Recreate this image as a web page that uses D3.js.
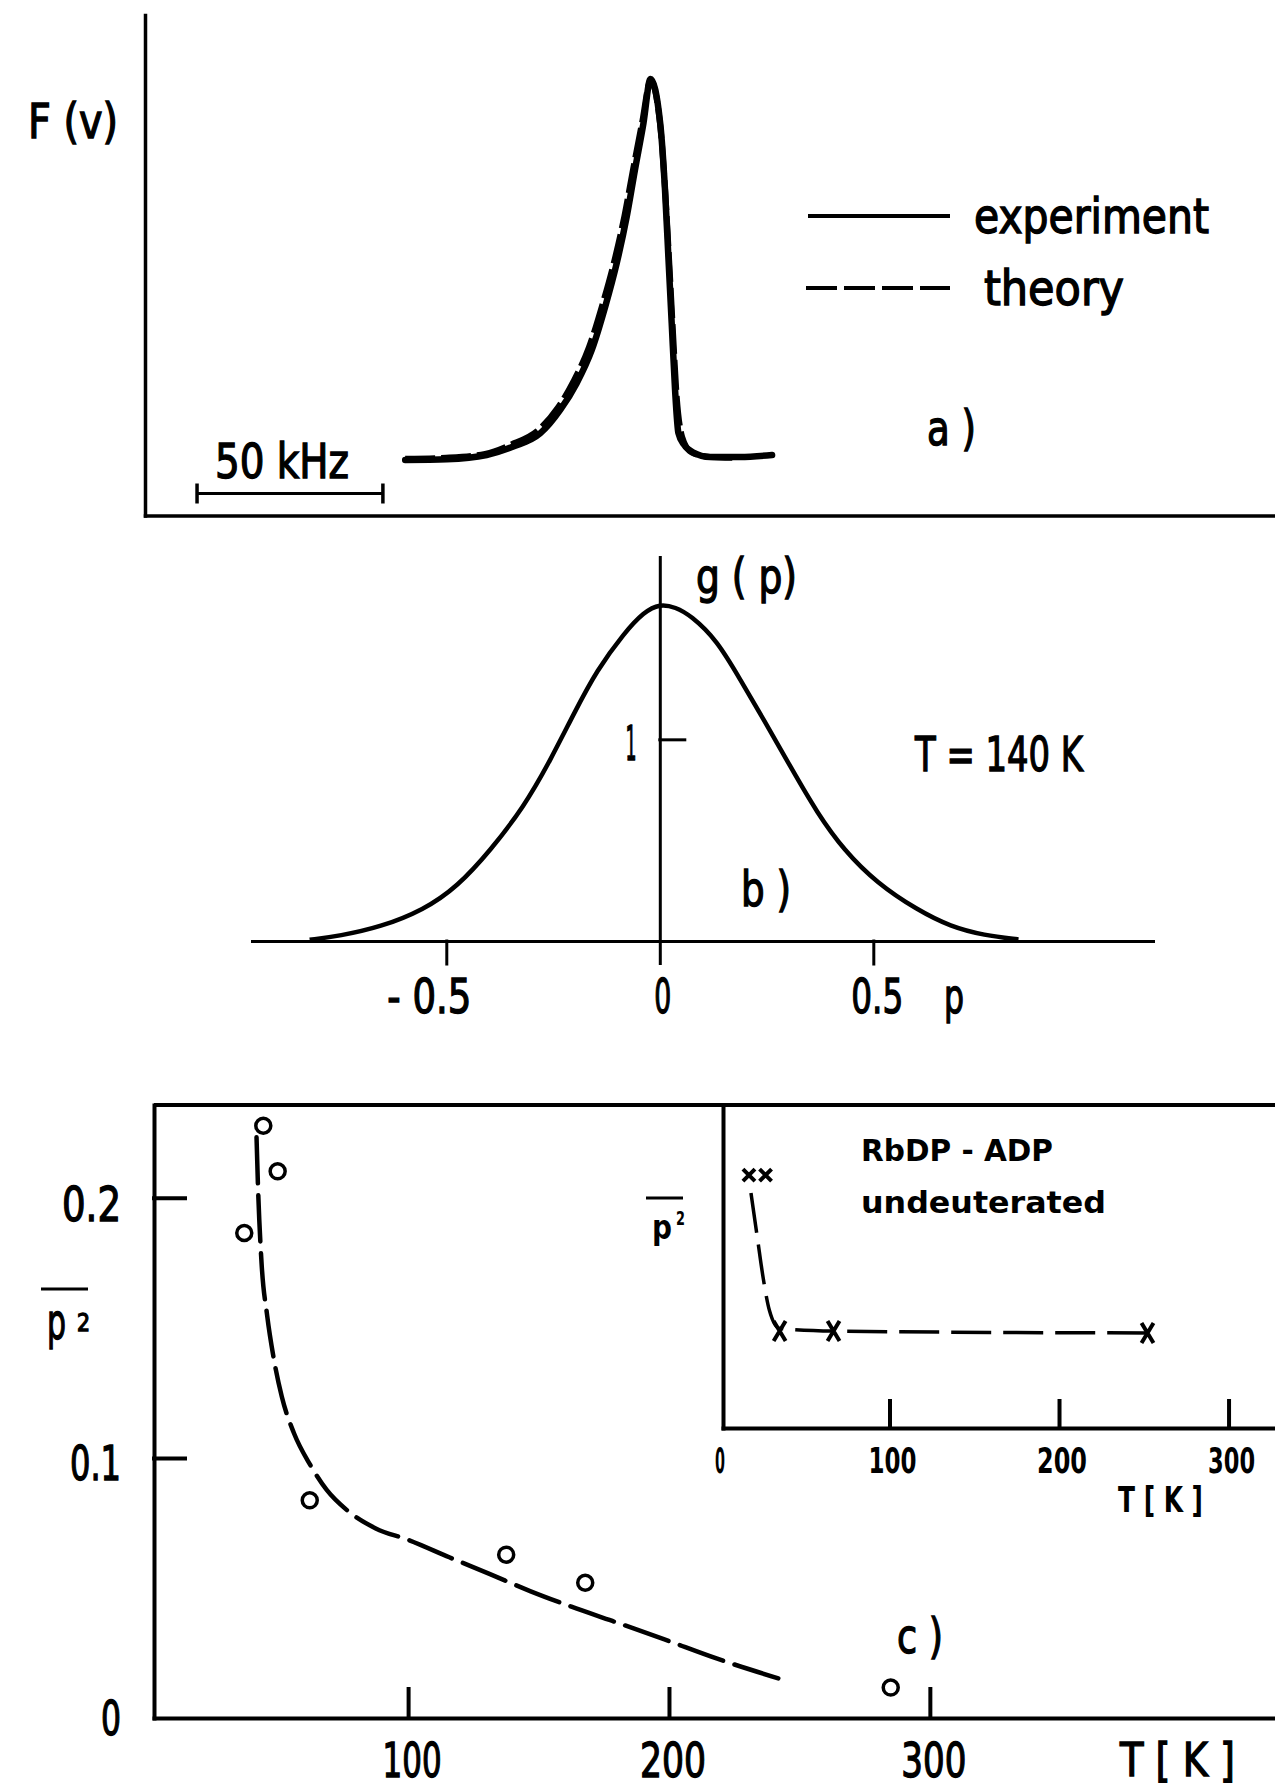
<!DOCTYPE html>
<html><head><meta charset="utf-8">
<script src="https://cdn.jsdelivr.net/npm/d3@7"></script>
<style>
body{margin:0;background:#fff}
svg{display:block;background:#fff}
text{font-family:"DejaVu Sans Condensed","Liberation Sans Narrow","DejaVu Sans",sans-serif;fill:#000}
</style>
</head><body>
<svg id="chart" width="1275" height="1789"></svg>
<script>
// ---------- Panel a: F(v) line shape, frequency in kHz relative to peak ----------
const freqExp = [-66, -54.8, -44.1, -36.9, -29.7, -24.3, -19.9, -15.8, -12.2, -9.1, -6.4, -4.2, -1.9, 0, 2.6, 3.9, 4.8, 5.7, 6.6, 7.5, 9, 11.4, 16, 24.1, 32.7];
const fExp    = [0, 0.002, 0.013, 0.035, 0.069, 0.130, 0.199, 0.286, 0.398, 0.511, 0.632, 0.753, 0.875, 0.99, 0.875, 0.701, 0.528, 0.355, 0.182, 0.07, 0.04, 0.02, 0.008, 0.008, 0.013];
const freqTheory = [-66, -55, -44.5, -37.5, -30.5, -25, -20.7, -16.6, -13, -9.8, -7, -4.7, -2.3, 0, 2.6, 4, 5, 6, 7, 8.5, 11, 16, 22];
const fTheory    = [0.003, 0.006, 0.016, 0.04, 0.075, 0.135, 0.205, 0.292, 0.402, 0.515, 0.635, 0.755, 0.875, 0.985, 0.87, 0.69, 0.52, 0.34, 0.17, 0.06, 0.02, 0.008, 0.006];
const scaleBarKHz = [-122, -72];
const legendLabels = ["experiment", "theory"];

// ---------- Panel b: g(p) at T = 140 K ----------
const pVals = [-0.82, -0.75, -0.654, -0.553, -0.474, -0.396, -0.318, -0.256, -0.201, -0.147, -0.084, -0.037, 0.0, 0.037, 0.072, 0.134, 0.189, 0.244, 0.306, 0.369, 0.431, 0.509, 0.603, 0.681, 0.76, 0.84];
const gVals = [0.006, 0.025, 0.069, 0.154, 0.269, 0.451, 0.666, 0.897, 1.129, 1.344, 1.526, 1.632, 1.672, 1.655, 1.615, 1.492, 1.294, 1.096, 0.864, 0.633, 0.451, 0.286, 0.154, 0.071, 0.028, 0.008];
const bTickValues = [-0.5, 0, 0.5];
const bTickLabels = ["- 0.5", "0", "0.5"];

// ---------- Panel c: mean p^2 vs T ----------
const tCircles  = [37.2, 44.5, 50, 62.3, 137.6, 167.9, 285];
const p2Circles = [0.1865, 0.2277, 0.2102, 0.0837, 0.0628, 0.052, 0.0117];
const tFit  = [41.9, 42.5, 43.8, 46, 48.4, 51.6, 56.3, 62.5, 68.8, 76.7, 87.6, 100, 115.8, 131.4, 147, 162.6, 178.3, 198, 218.5, 242.7];
const p2Fit = [0.2233, 0.2033, 0.1754, 0.1546, 0.1388, 0.1235, 0.1094, 0.0973, 0.0877, 0.0798, 0.0729, 0.0685, 0.0618, 0.0553, 0.0487, 0.0428, 0.0373, 0.0303, 0.0228, 0.015];
const cTicksX = [100, 200, 300];
const cTicksY = [0, 0.1, 0.2];
const cTickLabelsY = ["0", "0.1", "0.2"];

// ---------- Inset: RbDP - ADP undeuterated (relative p^2 units) ----------
const tInsetMarks  = [17.1, 26.9, 35.2, 67.0, 252.2];
const p2InsetMarks = [0.788, 0.788, 0.302, 0.302, 0.296];
const tInsetFit  = [18.3, 22.1, 25.6, 29.2, 35.2, 67.0, 252.2];
const p2InsetFit = [0.732, 0.592, 0.464, 0.366, 0.31, 0.302, 0.296];
const insetTicks = [0, 100, 200, 300];

// ================= drawing =================
const svg = d3.select("#chart");
function label(str, x, y, size, w, anchor, weight) {
  const t = svg.append("text").attr("x", x).attr("y", y)
    .attr("font-size", size).attr("font-weight", weight || "normal")
    .attr("text-anchor", anchor || "start").text(str);
  if (!weight) t.attr("stroke", "#000").attr("stroke-width", 1.3);
  if (w) t.attr("textLength", w).attr("lengthAdjust", "spacingAndGlyphs");
  return t;
}
function styleAxis(g, w) {
  g.selectAll("path,line").attr("stroke", "#000").attr("stroke-width", w).attr("stroke-linecap", "square");
  g.selectAll("text").remove();
}

// ----- Panel a -----
const xA = d3.scaleLinear().domain([-136, 168]).range([145, 1275]);
const yA = d3.scaleLinear().domain([-0.1442, 1.156]).range([515.5, 15]);
svg.append("g").attr("transform", `translate(${xA(-136)},0)`)
  .call(d3.axisLeft(yA).tickValues([]).tickSizeOuter(0)).call(g => styleAxis(g, 3.5));
svg.append("g").attr("transform", `translate(0,${yA(-0.1442)})`)
  .call(d3.axisBottom(xA).tickValues([]).tickSizeOuter(0)).call(g => styleAxis(g, 3.5));

const lineA = d3.line().x(d => xA(d[0])).y(d => yA(d[1])).curve(d3.curveMonotoneX);
svg.append("path").datum(freqTheory.map((f, i) => [f, fTheory[i]]))
  .attr("d", lineA).attr("fill", "none").attr("stroke", "#000").attr("stroke-width", 6)
  .attr("stroke-dasharray", "30,6");
svg.append("path").datum(freqExp.map((f, i) => [f, fExp[i]]))
  .attr("d", lineA).attr("fill", "none").attr("stroke", "#000").attr("stroke-width", 6.5)
  .attr("stroke-linecap", "round").attr("stroke-linejoin", "round");

// scale bar 50 kHz
const barY = 493.5;
svg.append("line").attr("x1", xA(scaleBarKHz[0])).attr("x2", xA(scaleBarKHz[1]))
  .attr("y1", barY).attr("y2", barY).attr("stroke", "#000").attr("stroke-width", 3);
scaleBarKHz.forEach(v => svg.append("line").attr("x1", xA(v)).attr("x2", xA(v))
  .attr("y1", barY - 10).attr("y2", barY + 10).attr("stroke", "#000").attr("stroke-width", 3.5));
label("50 kHz", 215, 478, 48, 134);
label("F (v)", 28, 138, 48, 90);

// legend
svg.append("line").attr("x1", 808).attr("x2", 950).attr("y1", 216).attr("y2", 216)
  .attr("stroke", "#000").attr("stroke-width", 4);
svg.append("line").attr("x1", 806).attr("x2", 950).attr("y1", 288).attr("y2", 288)
  .attr("stroke", "#000").attr("stroke-width", 4).attr("stroke-dasharray", "31,7");
label(legendLabels[0], 974, 233, 48, 235);
label(legendLabels[1], 984, 305, 48, 140);
label("a )", 927, 445, 48, 49);

// ----- Panel b -----
const xB = d3.scaleLinear().domain([-0.955, 1.155]).range([252, 1153]);
const yB = d3.scaleLinear().domain([-0.109, 1.904]).range([963, 557]);
svg.append("g").attr("transform", `translate(0,${yB(0)})`)
  .call(d3.axisBottom(xB).tickValues([-0.5, 0.5]).tickSize(23).tickSizeOuter(0).tickFormat(""))
  .call(g => styleAxis(g, 3));
svg.append("g").attr("transform", `translate(${xB(0)},0)`)
  .call(d3.axisRight(yB).tickValues([1]).tickSize(25).tickSizeOuter(0).tickFormat(""))
  .call(g => styleAxis(g, 3));
const lineB = d3.line().x(d => xB(d[0])).y(d => yB(d[1])).curve(d3.curveBasis);
svg.append("path").datum(pVals.map((p, i) => [p, gVals[i]]))
  .attr("d", lineB).attr("fill", "none").attr("stroke", "#000").attr("stroke-width", 4.5);
const bLabelW = [84, 17, 52];
const bLabelDx = [-17, 3, 4];
bTickValues.forEach((v, i) => label(bTickLabels[i], xB(v) + bLabelDx[i], 1013, 48, bLabelW[i], "middle"));
label("p", 954, 1013, 48, 20, "middle");
label("1", 631, 760, 48, 11, "middle");
label("g ( p)", 696, 593, 48, 101);
label("b )", 741, 906, 48, 50);
label("T = 140 K", 915, 771, 48, 168);

// ----- Panel c -----
const xC = d3.scaleLinear().domain([2.6, 432.3]).range([154, 1275]);
const yC = d3.scaleLinear().domain([0, 0.2357]).range([1718, 1105]);
svg.append("g").attr("transform", `translate(0,${yC(0)})`)
  .call(d3.axisBottom(xC).tickValues(cTicksX).tickSize(-29).tickSizeOuter(0).tickFormat(""))
  .call(g => styleAxis(g, 4));
svg.append("g").attr("transform", `translate(${xC(2.6)},0)`)
  .call(d3.axisLeft(yC).tickValues([0.1, 0.2]).tickSize(-31).tickSizeOuter(0).tickFormat(""))
  .call(g => styleAxis(g, 4));
svg.append("line").attr("x1", xC(2.6)).attr("x2", 1275).attr("y1", yC(0.2357)).attr("y2", yC(0.2357))
  .attr("stroke", "#000").attr("stroke-width", 4);

const lineC = d3.line().x(d => xC(d[0])).y(d => yC(d[1])).curve(d3.curveMonotoneX);
svg.append("path").datum(tFit.map((t, i) => [t, p2Fit[i]]))
  .attr("d", lineC).attr("fill", "none").attr("stroke", "#000").attr("stroke-width", 4.5)
  .attr("stroke-dasharray", "46,12").attr("stroke-linecap", "round");
svg.append("g").selectAll("circle").data(tCircles.map((t, i) => [t, p2Circles[i]])).join("circle")
  .attr("cx", d => xC(d[0])).attr("cy", d => yC(d[1])).attr("r", 7.5)
  .attr("fill", "#fff").attr("stroke", "#000").attr("stroke-width", 3.5);

const cXLabelW = [59, 66, 65];
cTicksX.forEach((v, i) => label(String(v), xC(v) + 4, 1777, 48, cXLabelW[i], "middle"));
const cYLabelW = [20, 51, 59];
const cYLabelDy = [17, 22, 23];
cTicksY.forEach((v, i) => label(cTickLabelsY[i], 121, yC(v) + cYLabelDy[i], 48, cYLabelW[i], "end"));
label("T [ K ]", 1120, 1776, 46, 115);
label("c )", 897, 1653, 48, 46);
// y label: p^2 with overline
svg.append("line").attr("x1", 41).attr("x2", 88).attr("y1", 1289).attr("y2", 1289)
  .attr("stroke", "#000").attr("stroke-width", 3);
label("p", 47, 1339, 50, 19);
label("2", 77, 1331, 24, 13);

// ----- Inset -----
const xI = d3.scaleLinear().domain([1.8, 327.4]).range([723, 1275]);
const yI = d3.scaleLinear().domain([0, 1.0062]).range([1428, 1105]);
svg.append("g").attr("transform", `translate(0,${yI(0)})`)
  .call(d3.axisBottom(xI).tickValues([100, 200, 300]).tickSize(-27).tickSizeOuter(0).tickFormat(""))
  .call(g => styleAxis(g, 4));
svg.append("g").attr("transform", `translate(${xI(1.8)},0)`)
  .call(d3.axisLeft(yI).tickValues([]).tickSizeOuter(0))
  .call(g => styleAxis(g, 4));
const lineI = d3.line().x(d => xI(d[0])).y(d => yI(d[1])).curve(d3.curveMonotoneX);
svg.append("path").datum(tInsetFit.map((t, i) => [t, p2InsetFit[i]]))
  .attr("d", lineI).attr("fill", "none").attr("stroke", "#000").attr("stroke-width", 3.5)
  .attr("stroke-dasharray", "40,12");
svg.append("g").selectAll("path").data(tInsetMarks.map((t, i) => [t, p2InsetMarks[i], i < 2 ? 6 : 10]))
  .join("path")
  .attr("d", d => {
    const x = xI(d[0]), y = yI(d[1]), hx = 6, hy = d[2];
    return `M${x - hx},${y - hy}L${x + hx},${y + hy}M${x + hx},${y - hy}L${x - hx},${y + hy}`;
  })
  .attr("stroke", "#000").attr("stroke-width", 4).attr("fill", "none");
const iLabelW = [10, 48, 50, 47];
insetTicks.forEach((v, i) => label(String(v), xI(v) + (i ? 3 : 0), 1473, 36, iLabelW[i], "middle", "bold"));
label("T [ K ]", 1118, 1512, 36, 85, "start", "bold");
label("RbDP - ADP", 861, 1161, 30, 192, "start", "bold");
label("undeuterated", 861, 1213, 30, 245, "start", "bold");
svg.append("line").attr("x1", 646).attr("x2", 683).attr("y1", 1198).attr("y2", 1198)
  .attr("stroke", "#000").attr("stroke-width", 3);
label("p", 652, 1239, 34, 20, "start", "bold");
label("2", 676, 1225, 19, 9, "start", "bold");
</script>
</body></html>
